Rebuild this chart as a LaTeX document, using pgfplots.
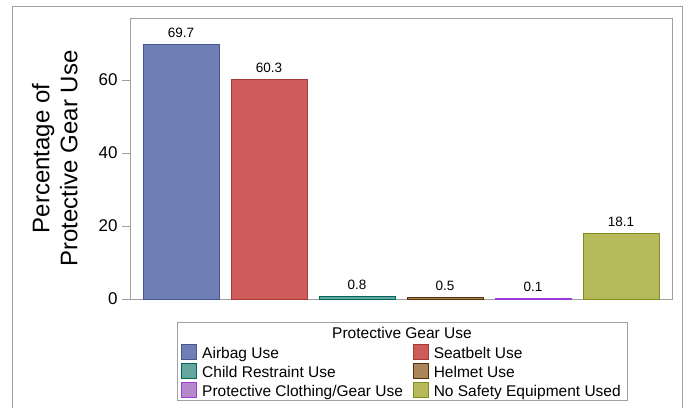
\documentclass[border=0pt]{standalone}
\usepackage{pgfplots}
\pgfplotsset{compat=1.18}
\usepackage{fontspec}
\setmainfont{Liberation Sans}
\definecolor{f1}{HTML}{6F7EB3}\definecolor{b1}{HTML}{445694}
\definecolor{f2}{HTML}{D05B5B}\definecolor{b2}{HTML}{A23A3A}
\definecolor{f3}{HTML}{66A5A0}\definecolor{b3}{HTML}{01665E}
\definecolor{f4}{HTML}{A9865B}\definecolor{b4}{HTML}{543005}
\definecolor{f5}{HTML}{B689CD}\definecolor{b5}{HTML}{9D3CDB}
\definecolor{f6}{HTML}{B7BA5A}\definecolor{b6}{HTML}{7F8E1F}
\definecolor{frame}{HTML}{A0A0A0}
\begin{document}
\begin{tikzpicture}[x=1pt,y=1pt]
\useasboundingbox (0,0) rectangle (690,408);
\draw[frame,line width=1pt] (12,0) -- (12,401) -- (682,401) -- (682,0);
\begin{axis}[
  at={(130pt,109pt)}, anchor=south west,
  scale only axis, width=542pt, height=281pt,
  xmin=-0.58, xmax=5.58, ymin=0, ymax=77,
  axis line style={frame},
  ytick={0,20,40,60}, xtick=\empty,
  tick style={frame, line width=0.8pt},
  tick align=outside, major tick length=8pt,
  ytick pos=left,
  yticklabel style={font=\fontsize{17}{19}\selectfont, xshift=-1pt},
  /pgf/number format/assume math mode=true,
  ylabel={Percentage of\\Protective Gear Use},
  ylabel style={align=center, font=\fontsize{24}{28}\selectfont, yshift=14pt},
  ybar, bar width=76pt, bar shift=0pt,
  every axis plot/.append style={line width=0.8pt},
  nodes near coords,
  every node near coord/.append style={font=\fontsize{13.5}{15}\selectfont, black, yshift=3pt},
  nodes near coords style={/pgf/number format/.cd, fixed, precision=1, fixed zerofill},
  legend columns=2,
  legend cell align=left,
  legend style={at={(rel axis cs:0.089,-0.152)}, anchor=north west, draw=none, fill=none,
    font=\fontsize{15.5}{17}\selectfont, row sep=1.5pt,
    /tikz/every odd column/.append style={column sep=3pt},
    /tikz/every even column/.append style={column sep=8pt}},
  legend image code/.code={\draw[#1, line width=0.8pt] (0pt,-6pt) rectangle (15pt,9pt);},
]
\addplot[fill=f1, draw=b1] coordinates {(0,69.7)}; \addlegendentry{Airbag Use}
\addplot[fill=f2, draw=b2] coordinates {(1,60.3)}; \addlegendentry{Seatbelt Use}
\addplot[fill=f3, draw=b3] coordinates {(2,0.8)}; \addlegendentry{Child Restraint Use}
\addplot[fill=f4, draw=b4] coordinates {(3,0.5)}; \addlegendentry{Helmet Use}
\addplot[fill=f5, draw=b5] coordinates {(4,0.1)}; \addlegendentry{Protective Clothing/Gear Use}
\addplot[fill=f6, draw=b6] coordinates {(5,18.1)}; \addlegendentry{No Safety Equipment Used}
\end{axis}
\draw[frame, line width=0.8pt] (177,8) rectangle (627,86);
\node[font=\fontsize{15.5}{17}\selectfont] at (402,75) {Protective Gear Use};
\end{tikzpicture}
\end{document}
